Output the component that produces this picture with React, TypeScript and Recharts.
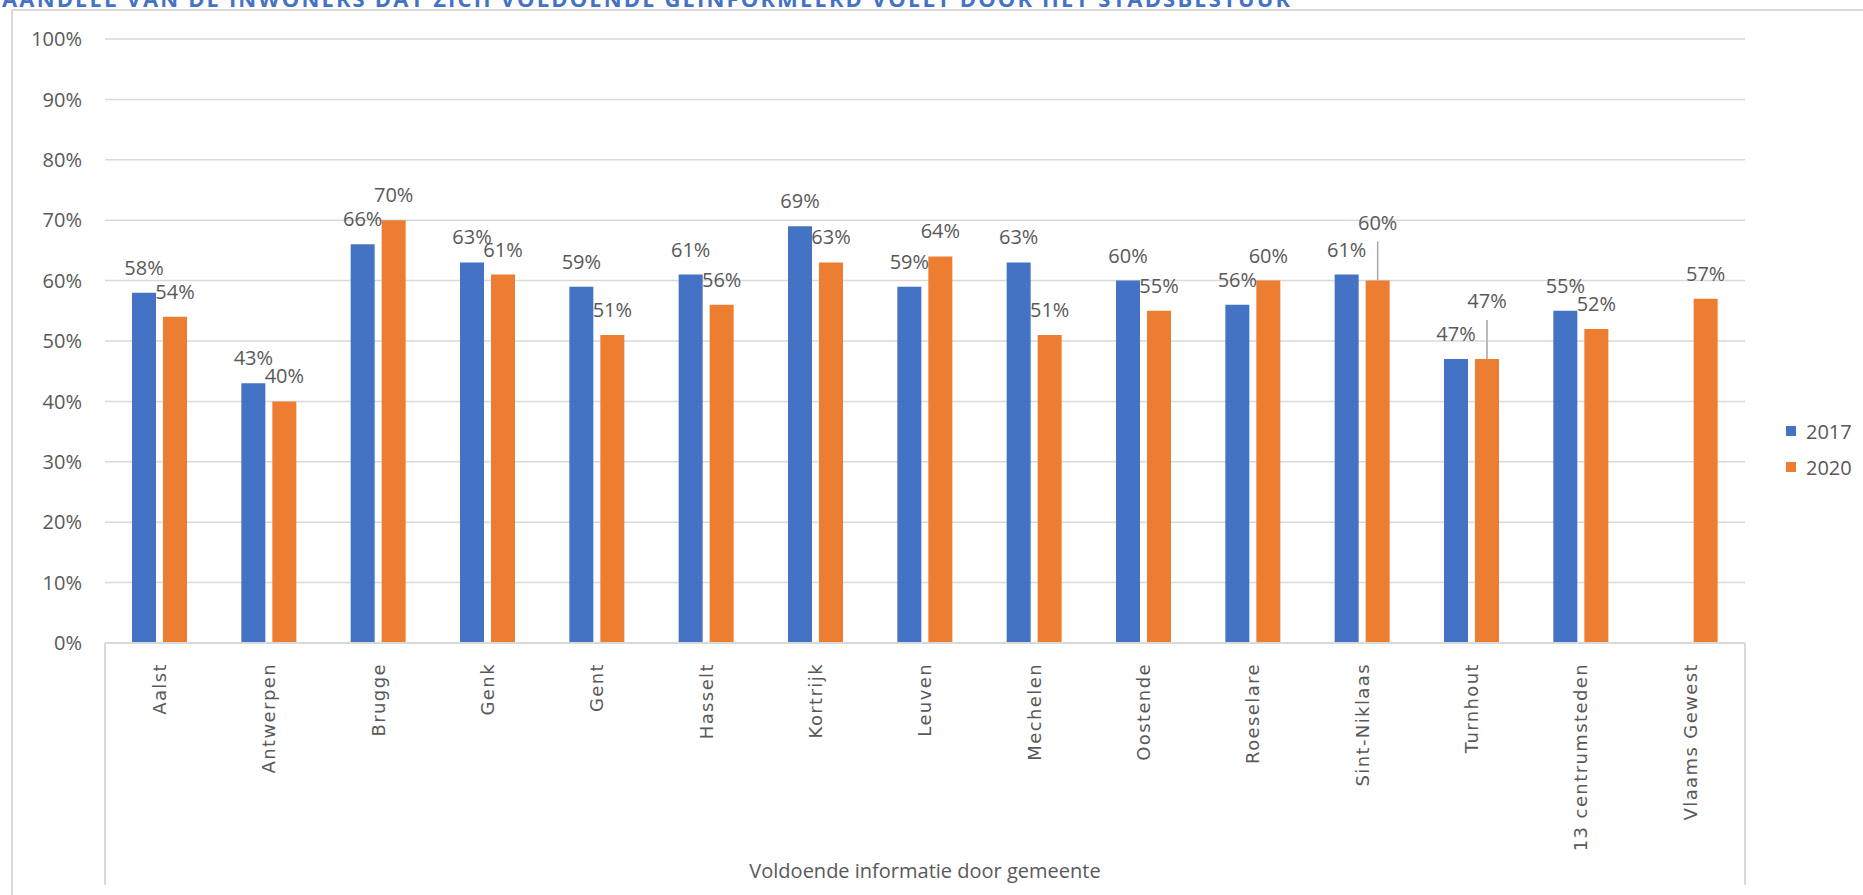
import React from 'react';
import { BarChart, Bar, XAxis, YAxis, CartesianGrid, LabelList, Label, Legend } from 'recharts';

const categories = [
  'Aalst', 'Antwerpen', 'Brugge', 'Genk', 'Gent', 'Hasselt', 'Kortrijk', 'Leuven',
  'Mechelen', 'Oostende', 'Roeselare', 'Sint-Niklaas', 'Turnhout', '13 centrumsteden', 'Vlaams Gewest',
];
const values2017: (number | null)[] = [58, 43, 66, 63, 59, 61, 69, 59, 63, 60, 56, 61, 47, 55, null];
const values2020: (number | null)[] = [54, 40, 70, 61, 51, 56, 63, 64, 51, 55, 60, 60, 47, 52, 57];
const seriesNames = ['2017', '2020'];
const yTicks = [0, 10, 20, 30, 40, 50, 60, 70, 80, 90, 100];
const liftedLabels2017: string[] = [];
const liftedLabels2020 = ['Sint-Niklaas', 'Turnhout'];
const chartTitle = 'AANDEEL VAN DE INWONERS DAT ZICH VOLDOENDE GEÏNFORMEERD VOELT DOOR HET STADSBESTUUR';
const axisTitle = 'Voldoende informatie door gemeente';

const BLUE = '#4472C4';
const ORANGE = '#ED7D31';
const TEXT = '#595959';
const GRID = '#D9D9D9';
const FONT = '"Open Sans", "DejaVu Sans", sans-serif';
const seriesColors = [BLUE, ORANGE];

const data = categories.map((name, i) => ({
  name,
  v2017: values2017[i],
  v2020: values2020[i],
}));

const makeLabel = (lifted: string[]) => (props: any) => {
  const { x, y, width, value, index } = props;
  if (value === null || value === undefined) return null;
  const cx = Number(x) + Number(width) / 2;
  const top = Number(y);
  const isLifted = lifted.includes(categories[index]);
  const baseline = top - 18 - (isLifted ? 33 : 0);
  return (
    <g>
      {isLifted && (
        <line x1={cx} x2={cx} y1={baseline + 12} y2={top} stroke="#A6A6A6" strokeWidth={1.5} />
      )}
      <text x={cx} y={baseline} textAnchor="middle" fontFamily={FONT} fontSize={20} fill={TEXT}>
        {`${value}%`}
      </text>
    </g>
  );
};

const CategoryTick = (props: any) => {
  const { x, y, payload } = props;
  return (
    <text
      x={x}
      y={y}
      transform={`rotate(-90, ${x}, ${y})`}
      textAnchor="end"
      dy="0.35em"
      fontFamily='"DejaVu Sans", sans-serif'
      fontSize={18}
      letterSpacing={1.4}
      fill={TEXT}
    >
      {payload.value}
    </text>
  );
};

const renderLegend = () => (
  <div style={{ fontFamily: FONT, fontSize: 20, color: TEXT, whiteSpace: 'nowrap', width: 80 }}>
    {seriesNames.map((s, i) => (
      <div key={s} style={{ display: 'flex', alignItems: 'center', height: 36 }}>
        <span
          style={{
            display: 'inline-block',
            flexShrink: 0,
            width: 10,
            height: 10,
            minWidth: 10,
            background: seriesColors[i],
            marginRight: 10,
          }}
        />
        <span>{s}</span>
      </div>
    ))}
  </div>
);

export default function App() {
  return (
    <div style={{ position: 'absolute', left: 0, top: 0, width: 1863, height: 895, overflow: 'hidden', background: '#fff' }}>
      <svg width={1863} height={20} style={{ position: 'absolute', left: 0, top: 0 }}>
        <text x={2} y={7} fontFamily={FONT} fontWeight={700} fontSize={22} fill={BLUE} textLength={1288} lengthAdjust="spacing">
          {chartTitle}
        </text>
      </svg>
      <div style={{ position: 'absolute', left: 11, top: 9, width: 1900, height: 900, borderLeft: `2px solid ${GRID}`, borderTop: `2px solid ${GRID}` }} />
      <div style={{ position: 'absolute', left: 104, top: 643, width: 2, height: 242, background: GRID }} />
      <div style={{ position: 'absolute', left: 1744, top: 643, width: 2, height: 242, background: GRID }} />
      <div style={{ position: 'absolute', left: 0, top: 0 }}>
        <BarChart
          width={1863}
          height={895}
          data={data}
          margin={{ top: 39, right: 118, bottom: 0, left: 0 }}
          barSize={24}
          barGap={7}
        >
          <CartesianGrid vertical={false} stroke={GRID} strokeWidth={1.5} />
          <YAxis
            type="number"
            domain={[0, 100]}
            ticks={yTicks}
            width={105}
            axisLine={false}
            tickLine={false}
            tickSize={0}
            tickMargin={23}
            tickFormatter={(v: number) => `${v}%`}
            tick={{ fontFamily: FONT, fontSize: 20, fill: TEXT }}
          />
          <XAxis
            dataKey="name"
            interval={0}
            height={252}
            axisLine={{ stroke: GRID, strokeWidth: 2 }}
            tickLine={false}
            tickSize={0}
            tickMargin={20}
            tick={<CategoryTick />}
          >
            <Label value={axisTitle} position="insideBottom" offset={17} fontFamily={FONT} fontSize={20} fill={TEXT} />
          </XAxis>
          <Legend
            layout="vertical"
            verticalAlign="top"
            align="right"
            content={renderLegend}
            wrapperStyle={{ left: 1786, top: 413, width: 0, right: 'auto', overflow: 'visible' }}
          />
          <Bar dataKey="v2017" name={seriesNames[0]} fill={BLUE} isAnimationActive={false}>
            <LabelList dataKey="v2017" content={makeLabel(liftedLabels2017)} />
          </Bar>
          <Bar dataKey="v2020" name={seriesNames[1]} fill={ORANGE} isAnimationActive={false}>
            <LabelList dataKey="v2020" content={makeLabel(liftedLabels2020)} />
          </Bar>
        </BarChart>
      </div>
    </div>
  );
}
